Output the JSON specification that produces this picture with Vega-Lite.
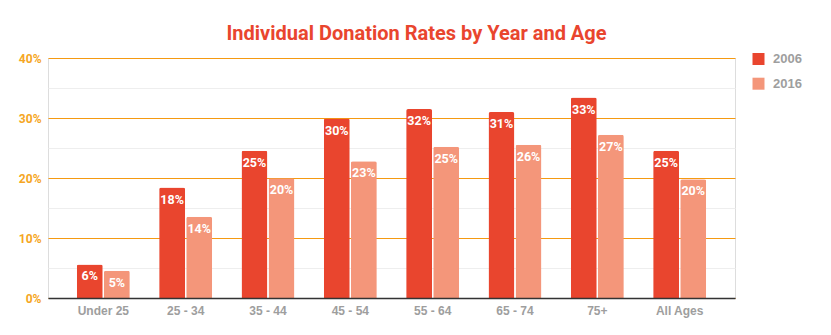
{
  "$schema": "https://vega.github.io/schema/vega-lite/v6.json",
  "width": 687,
  "height": 240,
  "autosize": {"type": "none"},
  "padding": {"left": 48, "top": 58, "right": 96, "bottom": 37},
  "background": "white",
  "title": {
    "text": "Individual Donation Rates by Year and Age",
    "font": "Roboto",
    "fontSize": 20,
    "fontWeight": "bold",
    "color": "#E9452E",
    "anchor": "middle",
    "frame": "group",
    "baseline": "alphabetic",
    "offset": -8,
    "dx": 25
  },
  "data": {
    "values": [
      {"age": "Under 25", "year": "2006", "rate": 0.056},
      {"age": "Under 25", "year": "2016", "rate": 0.0455},
      {"age": "25 - 34", "year": "2006", "rate": 0.184},
      {"age": "25 - 34", "year": "2016", "rate": 0.1355},
      {"age": "35 - 44", "year": "2006", "rate": 0.2455},
      {"age": "35 - 44", "year": "2016", "rate": 0.1995},
      {"age": "45 - 54", "year": "2006", "rate": 0.299},
      {"age": "45 - 54", "year": "2016", "rate": 0.228},
      {"age": "55 - 64", "year": "2006", "rate": 0.315},
      {"age": "55 - 64", "year": "2016", "rate": 0.252},
      {"age": "65 - 74", "year": "2006", "rate": 0.31},
      {"age": "65 - 74", "year": "2016", "rate": 0.2555},
      {"age": "75+", "year": "2006", "rate": 0.334},
      {"age": "75+", "year": "2016", "rate": 0.272},
      {"age": "All Ages", "year": "2006", "rate": 0.2455},
      {"age": "All Ages", "year": "2016", "rate": 0.198}
    ]
  },
  "encoding": {
    "x": {
      "field": "age",
      "type": "nominal",
      "sort": null,
      "title": null,
      "scale": {"paddingInner": 0.356, "paddingOuter": 0.35},
      "axis": {
        "domainColor": "#333333",
        "domainWidth": 1.5,
        "ticks": false,
        "labelAngle": 0,
        "labelFont": "Liberation Sans",
        "labelFontSize": 12,
        "labelFontWeight": "bold",
        "labelColor": "#9E9E9E",
        "labelPadding": 7,
        "zindex": 1
      }
    },
    "xOffset": {
      "field": "year",
      "type": "nominal",
      "scale": {"paddingInner": 0.04}
    },
    "y": {
      "field": "rate",
      "type": "quantitative",
      "title": null,
      "scale": {"domain": [0, 0.4], "nice": false},
      "axis": {
        "values": [0, 0.05, 0.1, 0.15, 0.2, 0.25, 0.3, 0.35, 0.4],
        "format": ".0%",
        "labelExpr": "round(datum.value * 100) % 10 === 0 ? datum.label : ''",
        "domain": false,
        "ticks": false,
        "labelFont": "Roboto",
        "labelFontSize": 12,
        "labelFontWeight": "bold",
        "labelColor": "#F5A623",
        "labelPadding": 7,
        "gridColor": {
          "condition": {"test": "round(datum.value * 100) % 10 === 0", "value": "#F59A12"},
          "value": "#EEEEEE"
        },
        "gridWidth": 1
      }
    }
  },
  "layer": [
    {
      "mark": {"type": "bar", "cornerRadiusTopLeft": 2, "cornerRadiusTopRight": 2},
      "encoding": {
        "color": {
          "field": "year",
          "type": "nominal",
          "scale": {"domain": ["2006", "2016"], "range": ["#E9452E", "#F4967A"]},
          "legend": {
            "title": null,
            "orient": "none",
            "legendX": 704,
            "legendY": -5.5,
            "symbolType": "square",
            "symbolSize": 144,
            "symbolStrokeWidth": 0,
            "labelFont": "Liberation Sans",
            "labelFontSize": 13,
            "labelFontWeight": "bold",
            "labelColor": "#9E9E9E",
            "labelOffset": 8,
            "rowPadding": 10.7,
            "padding": 0
          }
        }
      }
    },
    {
      "mark": {
        "type": "text",
        "color": "white",
        "font": "Roboto",
        "fontSize": 12.5,
        "fontWeight": "bold",
        "baseline": "middle",
        "dy": 12
      },
      "encoding": {
        "text": {"field": "rate", "type": "quantitative", "format": ".0%"}
      }
    }
  ]
}
